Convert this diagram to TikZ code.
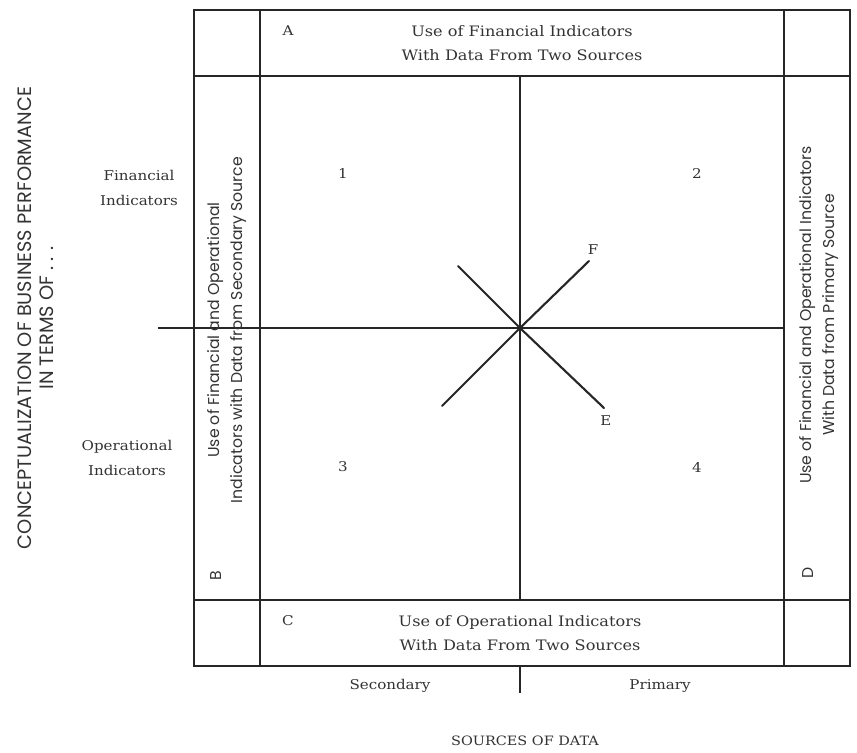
\documentclass[tikz,border=0pt]{standalone}
\usepackage{fontspec}
\setmainfont{DejaVu Serif}[FakeStretch=1.12]
\newfontfamily\geofont{Poppins}
\usetikzlibrary{positioning}
\tikzset{
  grid/.style={line width=1.4pt, draw=black!85},
  spoke/.style={line width=1.8pt, draw=black!85, line cap=round},
  lbl/.style={font=\fontsize{11.5}{21}\selectfont, text=black!80, align=center, inner sep=0pt},
  boxlbl/.style={font=\fontsize{12.3}{21}\selectfont, text=black!80, align=center, inner sep=0pt},
  vlbl/.style={font=\geofont\fontsize{13.4}{20}\selectfont, text=black!80, align=center, rotate=90, inner sep=0pt},
}

\begin{document}
\begin{tikzpicture}[x=0.03cm, y=-0.03cm]
\useasboundingbox (0,0) rectangle (857,753);
\draw[grid] (194,10) rectangle (850,666);
\draw[grid] (194,76) -- (850,76);
\draw[grid] (194,600) -- (850,600);
\draw[grid] (260,10) -- (260,666);
\draw[grid] (784,10) -- (784,666);
\coordinate (mid) at (520,328);
\coordinate (midL) at (158,328);
\coordinate (midR) at (784,328);
\coordinate (midT) at (520,76);
\coordinate (midB) at (520,600);
\coordinate (tickT) at (520,666);
\coordinate (tickB) at (520,693);
\draw[grid] (midL) -- (midR);
\draw[grid] (midT) -- (midB);
\draw[grid] (tickT) -- (tickB);
\coordinate (fLow) at (442,406);
\coordinate (fHigh) at (589,261);
\coordinate (eHigh) at (458,266);
\coordinate (eLow) at (604,408);
\draw[spoke] (fLow) -- (mid) -- (fHigh);
\draw[spoke] (eHigh) -- (mid) -- (eLow);
\node[lbl] (lblF) at (593,250) {F};
\node[lbl] (lblE) at (606,421) {E};
\node[lbl] (cellA) at (288,31) {A};
\node[boxlbl] (txtA) at (522,43) {Use of Financial Indicators\\With Data From Two Sources};
\node[lbl] (cellC) at (288,621) {C};
\node[boxlbl] (txtC) at (520,633) {Use of Operational Indicators\\With Data From Two Sources};
\node[lbl] (q1) at (343,173) {1};
\node[lbl] (q2) at (697,173) {2};
\node[lbl] (q3) at (343,467) {3};
\node[lbl] (q4) at (697,467) {4};
\node[lbl] (finInd) at (139,188) {Financial\\Indicators};
\node[lbl] (opInd) at (127,458) {Operational\\Indicators};
\node[lbl] (secSrc) at (390,686) {Secondary};
\node[lbl] (primSrc) at (660,686) {Primary};
\node[lbl, font=\fontsize{11}{21}\selectfont] (xTitle) at (525,741) {SOURCES OF DATA};
\node[vlbl] (cellB) at (216,576) {B};
\node[vlbl] (txtB) at (227,330) {Use of Financial and Operational\\Indicators with Data from Secondary Source};
\node[vlbl] (cellD) at (808,573) {D};
\node[vlbl] (txtD) at (819,315) {Use of Financial and Operational Indicators\\With Data from Primary Source};
\node[vlbl, font=\geofont\fontsize{16.5}{18.5}\selectfont] (yTitle) at (36,318) {CONCEPTUALIZATION OF BUSINESS PERFORMANCE\\IN TERMS OF . . .};
\end{tikzpicture}
\end{document}
